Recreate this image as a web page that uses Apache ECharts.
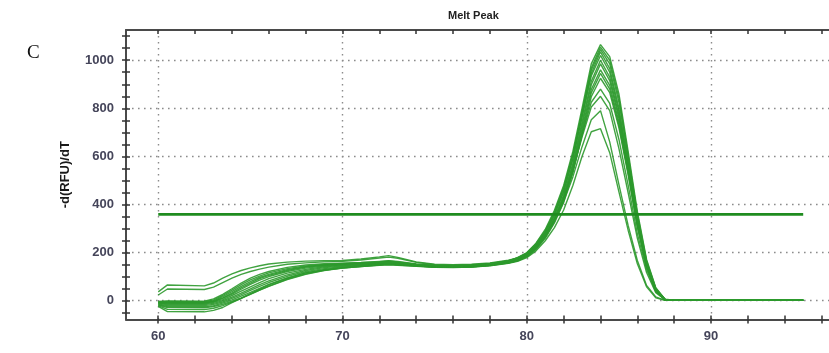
<!DOCTYPE html>
<html>
<head>
<meta charset="utf-8">
<script src="https://cdn.jsdelivr.net/npm/echarts@6/dist/echarts.min.js"></script>
<style>
  html, body { margin: 0; padding: 0; background: #ffffff; }
  #chart { width: 829px; height: 353px; }
</style>
</head>
<body>
<div id="chart"></div>
<script>
// Temperature steps (°C) shared by every well trace
const temps = [60, 60.5, 62.5, 63, 63.5, 64, 64.5, 65, 65.5, 66, 67, 68, 69, 70, 71, 72, 72.5, 73, 74, 75, 76, 77, 78, 79,
               79.5, 80, 80.5, 81, 81.5, 82, 82.5, 83, 83.5, 84, 84.5, 85, 85.5, 86, 86.5, 87, 87.5, 88, 95];

// -d(RFU)/dT per well
const wellA = [35, 64, 60, 72, 92, 110, 124, 135, 144, 151, 159, 163, 165, 166, 172, 181, 186, 179, 160, 150, 148, 150, 156, 167,
               176, 193, 223, 268, 330, 410, 514, 640, 752, 790, 660, 482, 312, 166, 62, 14, 0, 0, 0];
const wellB = [22, 47, 45, 55, 74, 92, 108, 120, 130, 138, 150, 156, 160, 162, 168, 176, 180, 175, 158, 148, 146, 148, 154, 165,
               174, 192, 225, 272, 338, 424, 540, 680, 805, 850, 790, 632, 448, 258, 116, 32, 2, 0, 0];
const wellC = [-5, -3, -4, 6, 25, 48, 72, 92, 108, 120, 137, 147, 152, 155, 158, 162, 164, 160, 150, 145, 144, 146, 152, 163,
               178, 198, 238, 295, 375, 478, 620, 800, 985, 1065, 1015, 860, 620, 370, 170, 52, 5, 0, 0];
const wellD = [-8, -8, -9, -2, 15, 36, 58, 78, 95, 108, 128, 140, 147, 151, 155, 158, 160, 157, 149, 144, 143, 145, 151, 162,
               175, 195, 232, 286, 364, 465, 604, 785, 968, 1055, 1000, 842, 605, 360, 165, 50, 4, 0, 0];
const wellE = [-10, -12, -12, -6, 8, 26, 46, 66, 84, 99, 120, 134, 143, 148, 152, 156, 158, 155, 148, 143, 142, 144, 150, 160,
               172, 192, 228, 280, 354, 450, 588, 765, 945, 1035, 965, 800, 578, 340, 155, 46, 4, 0, 0];
const wellF = [-12, -15, -15, -9, 3, 20, 38, 56, 74, 90, 113, 129, 140, 146, 150, 154, 156, 153, 147, 142, 141, 143, 149, 159,
               170, 189, 224, 274, 345, 438, 570, 742, 912, 1000, 930, 770, 558, 328, 150, 44, 3, 0, 0];
const wellG = [-14, -18, -18, -13, -2, 13, 30, 48, 65, 81, 106, 124, 136, 143, 148, 152, 154, 151, 146, 141, 140, 142, 148, 158,
               168, 187, 221, 270, 340, 431, 562, 730, 898, 985, 915, 758, 550, 322, 147, 43, 3, 0, 0];
const wellH = [-6, -5, -6, 2, 20, 42, 65, 85, 101, 114, 132, 143, 149, 153, 157, 161, 165, 162, 151, 145, 144, 146, 152, 164,
               178, 198, 236, 290, 368, 470, 608, 782, 958, 1045, 985, 825, 595, 352, 160, 48, 4, 0, 0];
const wellI = [-16, -22, -22, -17, -7, 8, 24, 41, 58, 74, 100, 119, 132, 140, 146, 151, 153, 150, 145, 140, 139, 141, 147, 157,
               166, 184, 218, 266, 334, 424, 552, 715, 878, 960, 895, 742, 538, 316, 144, 42, 3, 0, 0];
const wellJ = [-18, -26, -27, -22, -12, 2, 17, 33, 50, 66, 93, 114, 128, 137, 144, 149, 151, 149, 144, 139, 138, 140, 146, 156,
               165, 183, 215, 262, 328, 416, 542, 703, 864, 945, 880, 730, 530, 310, 142, 41, 3, 0, 0];
const wellK = [-20, -30, -31, -26, -17, -4, 10, 26, 42, 58, 86, 108, 124, 134, 141, 147, 149, 147, 143, 138, 137, 139, 145, 155,
               164, 181, 212, 258, 322, 408, 530, 690, 848, 925, 865, 718, 522, 305, 140, 40, 3, 0, 0];
const wellL = [-9, -10, -10, -4, 10, 30, 52, 72, 90, 104, 124, 138, 146, 150, 154, 158, 162, 158, 149, 143, 142, 144, 150, 161,
               174, 194, 230, 282, 356, 453, 590, 762, 935, 1020, 950, 785, 568, 334, 152, 45, 3, 0, 0];
const wellM = [-25, -47, -48, -42, -30, -10, 8, 28, 46, 64, 92, 114, 126, 134, 141, 146, 148, 146, 142, 137, 136, 138, 144, 154,
               162, 178, 206, 248, 303, 376, 478, 600, 702, 715, 615, 452, 292, 152, 56, 10, 0, 0, 0];
const wellN = [-22, -38, -39, -33, -22, -8, 8, 25, 42, 59, 88, 110, 125, 135, 142, 148, 152, 149, 144, 139, 138, 140, 146, 157,
               166, 185, 218, 264, 330, 418, 538, 690, 825, 880, 820, 670, 480, 278, 128, 36, 2, 0, 0];

// Peak-calling threshold
const thresholdTemps = [60, 95];
const thresholdLevel = 358;

// Tick positions and labels
const xTicks = [60, 62, 64, 66, 68, 70, 72, 74, 76, 78, 80, 82, 84, 86, 88, 90, 92, 94, 96];
const xLabels = [60, 70, 80, 90];
const yTicks = [-50, 0, 50, 100, 150, 200, 250, 300, 350, 400, 450, 500, 550, 600, 650, 700, 750, 800, 850, 900, 950, 1000, 1050, 1100];
const yLabels = [0, 200, 400, 600, 800, 1000];

const X_MIN = 58.25, X_MAX = 96.4;
const Y_MIN = -80, Y_MAX = 1126;

const wells = [wellA, wellB, wellM, wellN, wellK, wellJ, wellI, wellG, wellF, wellL, wellE, wellH, wellD, wellC];

const chart = echarts.init(document.getElementById('chart'), null, { renderer: 'canvas' });

const axisColor = '#4a4a4a';
const tickStyle = { color: '#333', width: 1.5 };
const labelStyle = { fontFamily: 'Liberation Sans, Arial, sans-serif', fontSize: 13, fontWeight: 'bold', color: '#45455a', formatter: v => String(v) };
const gridDots = { type: [1.6, 4.4], color: '#8c8c8c', width: 1.4 };

function xAxis(extra) {
  return Object.assign({
    type: 'value', min: X_MIN, max: X_MAX, position: 'bottom',
    axisLine: { show: false, onZero: false }, axisTick: { show: false },
    axisLabel: { show: false }, splitLine: { show: false }, axisPointer: { show: false }
  }, extra);
}
function yAxis(extra) {
  return Object.assign({
    type: 'value', min: Y_MIN, max: Y_MAX, position: 'left',
    axisLine: { show: false, onZero: false }, axisTick: { show: false },
    axisLabel: { show: false }, splitLine: { show: false }, axisPointer: { show: false }
  }, extra);
}

const series = wells.map((vals, w) => ({
  type: 'line',
  name: 'well' + w,
  xAxisIndex: 0, yAxisIndex: 0,
  data: temps.map((t, i) => [t, vals[i]]),
  showSymbol: false,
  silent: true,
  lineStyle: { color: '#2c992c', width: 1.4, opacity: 0.9 },
  z: 3
}));

series.push({
  type: 'line',
  name: 'threshold',
  xAxisIndex: 0, yAxisIndex: 0,
  data: thresholdTemps.map(t => [t, thresholdLevel]),
  showSymbol: false,
  silent: true,
  lineStyle: { color: '#1f8c1f', width: 2.6 },
  z: 4
});

chart.setOption({
  animation: false,
  backgroundColor: '#ffffff',
  title: [
    { text: 'Melt Peak', left: 443, top: 5,
      textStyle: { fontFamily: 'Liberation Sans, Arial, sans-serif', fontSize: 11, fontWeight: 'bold', color: '#222' } },
    { text: 'C', left: 22, top: 39,
      textStyle: { fontFamily: 'Liberation Serif, Times New Roman, serif', fontSize: 19, fontWeight: 'normal', color: '#111' } }
  ],
  grid: { left: 126, right: 0, top: 30, bottom: 33.5, containLabel: false },
  xAxis: [
    xAxis({
      axisLine: { show: true, onZero: false, lineStyle: { color: axisColor, width: 2 } },
      axisTick: { show: true, inside: false, length: 4, customValues: xTicks, lineStyle: tickStyle },
      axisLabel: Object.assign({ show: true, margin: 10, customValues: xLabels }, labelStyle)
    }),
    xAxis({
      axisTick: { show: true, inside: true, length: 4, customValues: xTicks, lineStyle: tickStyle }
    }),
    xAxis({
      position: 'top',
      axisLine: { show: true, onZero: false, lineStyle: { color: axisColor, width: 2 } },
      axisTick: { show: true, inside: true, length: 4, customValues: xTicks, lineStyle: tickStyle }
    }),
    xAxis({
      axisTick: { show: false, customValues: xLabels },
      splitLine: { show: true, lineStyle: gridDots }
    })
  ],
  yAxis: [
    yAxis({
      name: '-d(RFU)/dT',
      nameLocation: 'middle',
      nameGap: 54,
      nameRotate: 90,
      nameTextStyle: { fontFamily: 'Liberation Sans, Arial, sans-serif', fontSize: 13, fontWeight: 'bold', color: '#1a1a1a' },
      axisLine: { show: true, onZero: false, lineStyle: { color: axisColor, width: 2 } },
      axisTick: { show: true, inside: false, length: 4, customValues: yTicks, lineStyle: tickStyle },
      axisLabel: Object.assign({ show: true, margin: 12, customValues: yLabels }, labelStyle)
    }),
    yAxis({
      axisTick: { show: true, inside: true, length: 4, customValues: yTicks, lineStyle: tickStyle }
    }),
    yAxis({
      axisTick: { show: false, customValues: yLabels },
      splitLine: { show: true, lineStyle: gridDots }
    })
  ],
  series: series
});
</script>
</body>
</html>
